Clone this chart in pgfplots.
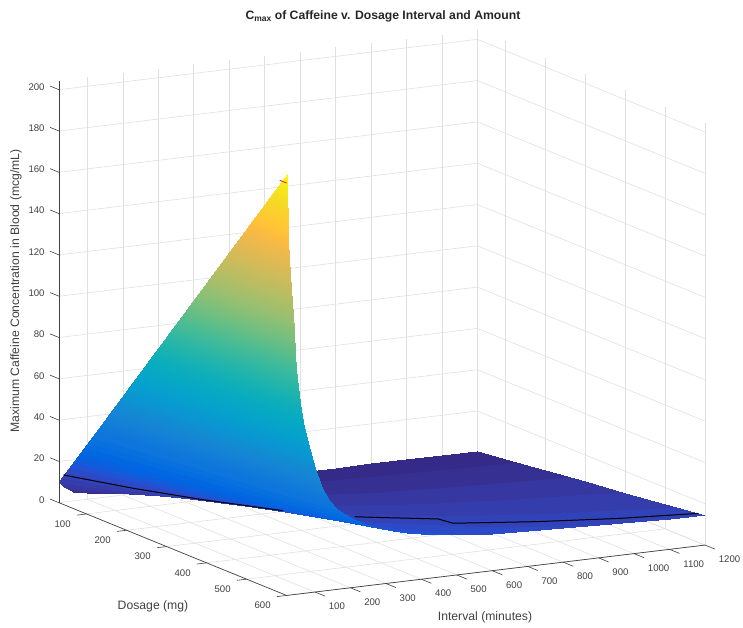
\documentclass[border=0pt]{standalone}
\usepackage{fontspec}
\setmainfont{Liberation Sans}
\usepackage{pgfplots}
\pgfplotsset{compat=1.18}
\definecolor{axgray}{rgb}{0.25,0.25,0.25}
\definecolor{gridgray}{rgb}{0.88,0.88,0.88}
\pgfplotsset{colormap={parula64}{
rgb255(0cm)=(53,42,135) rgb255(0.95cm)=(53,42,135)
rgb255(1cm)=(54,48,147) rgb255(1.95cm)=(54,48,147)
rgb255(2cm)=(54,55,160) rgb255(2.95cm)=(54,55,160)
rgb255(3cm)=(53,61,173) rgb255(3.95cm)=(53,61,173)
rgb255(4cm)=(50,67,186) rgb255(4.95cm)=(50,67,186)
rgb255(5cm)=(44,74,199) rgb255(5.95cm)=(44,74,199)
rgb255(6cm)=(32,83,212) rgb255(6.95cm)=(32,83,212)
rgb255(7cm)=(15,92,221) rgb255(7.95cm)=(15,92,221)
rgb255(8cm)=(3,99,225) rgb255(8.95cm)=(3,99,225)
rgb255(9cm)=(2,104,225) rgb255(9.95cm)=(2,104,225)
rgb255(10cm)=(4,109,224) rgb255(10.95cm)=(4,109,224)
rgb255(11cm)=(8,113,222) rgb255(11.95cm)=(8,113,222)
rgb255(12cm)=(13,117,220) rgb255(13cm)=(13,117,220)
rgb255(14cm)=(16,121,218) rgb255(15cm)=(18,125,216) rgb255(16cm)=(20,129,214)
rgb255(17cm)=(20,133,212) rgb255(18cm)=(19,137,211) rgb255(19cm)=(16,142,210)
rgb255(20cm)=(12,147,210) rgb255(21cm)=(9,152,209) rgb255(22cm)=(7,156,207)
rgb255(23cm)=(6,160,205) rgb255(24cm)=(6,164,202) rgb255(25cm)=(6,167,198)
rgb255(26cm)=(7,169,194) rgb255(27cm)=(10,172,190) rgb255(28cm)=(15,174,185)
rgb255(29cm)=(21,177,180) rgb255(30cm)=(29,179,175) rgb255(31cm)=(37,181,169)
rgb255(32cm)=(46,183,164) rgb255(33cm)=(56,185,158) rgb255(34cm)=(66,187,152)
rgb255(35cm)=(77,188,146) rgb255(36cm)=(89,189,140) rgb255(37cm)=(101,190,134)
rgb255(38cm)=(113,191,128) rgb255(39cm)=(124,191,123) rgb255(40cm)=(135,191,119)
rgb255(41cm)=(146,191,115) rgb255(42cm)=(156,191,111) rgb255(43cm)=(165,190,107)
rgb255(44cm)=(174,190,103) rgb255(45cm)=(183,189,100) rgb255(46cm)=(192,188,96)
rgb255(47cm)=(200,188,93) rgb255(48cm)=(209,187,89) rgb255(49cm)=(217,186,86)
rgb255(50cm)=(225,185,82) rgb255(51cm)=(233,185,78) rgb255(52cm)=(241,185,74)
rgb255(53cm)=(248,186,68) rgb255(54cm)=(253,190,61) rgb255(55cm)=(255,195,55)
rgb255(56cm)=(254,200,50) rgb255(57cm)=(252,206,46) rgb255(58cm)=(250,211,42)
rgb255(59cm)=(247,216,38) rgb255(60cm)=(245,222,33) rgb255(61cm)=(245,228,29)
rgb255(62cm)=(245,235,24) rgb255(63cm)=(246,243,19) rgb255(64cm)=(249,251,14)
}}
\begin{document}
\begin{tikzpicture}[x=1pt,y=1pt]
\useasboundingbox (0,0) rectangle (743,627);
\begin{axis}[
  anchor=origin, at={(59pt,124.3pt)},
  disabledatascaling,
  x={(0.4pt,-0.163pt)}, y={(0.35455pt,0.0427pt)}, z={(0pt,2.065pt)},
  xmin=31,xmax=600,ymin=20,ymax=1200,zmin=0,zmax=204.4,
  ytick={100,200,...,1200}, xtick={100,200,...,600}, ztick={0,20,...,200},
  grid=major, grid style={gridgray,line width=0.6pt},
  axis line style={draw=none},
  tick align=outside, major tick length=9pt,
  tick pos=left,
  tick style={draw=none},
  tick label style={font=\fontsize{9.6}{11}\selectfont,text=axgray},
  xticklabel style={anchor=east,xshift=-3.5pt,yshift=-9pt},
  yticklabel style={anchor=west,xshift=2pt,yshift=-11pt},
  zticklabel style={anchor=east,xshift=-2pt,yshift=4pt},
  /pgf/number format/assume math mode=true,
  /pgf/number format/1000 sep={},
  clip=false,
  point meta min=0, point meta max=204.4,
  colormap name=parula64,
]
\addplot3[surf,shader=interp,mesh/ordering=x varies,mesh/cols=7,mesh/rows=30,z buffer=auto] table[x=y,y=x,z=z] {
x y z
20 31 10.5
20 100 34
20 200 68
20 300 102
20 400 136
20 500 170
20 600 204.3
25 31 8.9
25 100 28.6
25 200 57.2
25 300 85.8
25 400 114.4
25 500 143
25 600 171.6
30 31 8.0
30 100 25.8
30 200 51.6
30 300 77.4
30 400 103.2
30 500 129
30 600 154.8
35 31 7.3
35 100 23.6
35 200 47.2
35 300 70.8
35 400 94.4
35 500 118
35 600 141.6
40 31 6.6
40 100 21.4
40 200 42.8
40 300 64.2
40 400 85.6
40 500 107
40 600 128.4
45 31 6.0
45 100 19.2
45 200 38.4
45 300 57.6
45 400 76.8
45 500 96
45 600 115.2
50 31 5.4
50 100 17.4
50 200 34.8
50 300 52.2
50 400 69.6
50 500 87
50 600 104.4
60 31 4.6
60 100 14.8
60 200 29.6
60 300 44.4
60 400 59.2
60 500 74
60 600 88.8
70 31 4.2
70 100 13.4
70 200 26.8
70 300 40.2
70 400 53.6
70 500 67
70 600 80.4
80 31 3.8
80 100 12.1
80 200 24.2
80 300 36.3
80 400 48.4
80 500 60.5
80 600 72.6
100 31 3.1
100 100 10
100 200 20
100 300 30
100 400 40
100 500 50
100 600 60
120 31 2.6
120 100 8.35
120 200 16.7
120 300 25.05
120 400 33.4
120 500 41.75
120 600 50.1
140 31 2.3
140 100 7.3
140 200 14.6
140 300 21.9
140 400 29.2
140 500 36.5
140 600 43.8
160 31 2.0
160 100 6.57
160 200 13.14
160 300 19.71
160 400 26.28
160 500 32.85
160 600 39.42
180 31 1.9
180 100 6.12
180 200 12.24
180 300 18.36
180 400 24.48
180 500 30.6
180 600 36.72
200 31 1.8
200 100 5.75
200 200 11.5
200 300 17.25
200 400 23
200 500 28.75
200 600 34.5
240 31 1.6
240 100 5.03
240 200 10.06
240 300 15.09
240 400 20.12
240 500 25.15
240 600 30.18
280 31 1.4
280 100 4.55
280 200 9.1
280 300 13.65
280 400 18.2
280 500 22.75
280 600 27.3
320 31 1.3
320 100 4.15
320 200 8.3
320 300 12.45
320 400 16.6
320 500 20.75
320 600 24.9
360 31 1.2
360 100 3.85
360 200 7.7
360 300 11.55
360 400 15.4
360 500 19.25
360 600 23.1
400 31 1.1
400 100 3.62
400 200 7.24
400 300 10.86
400 400 14.48
400 500 18.1
400 600 21.72
450 31 1.05
450 100 3.4
450 200 6.8
450 300 10.2
450 400 13.6
450 500 17
450 600 20.4
500 31 1.0
500 100 3.25
500 200 6.5
500 300 9.75
500 400 13
500 500 16.25
500 600 19.5
600 31 0.93
600 100 3
600 200 6
600 300 9
600 400 12
600 500 15
600 600 18
700 31 0.88
700 100 2.83
700 200 5.66
700 300 8.49
700 400 11.32
700 500 14.15
700 600 16.98
800 31 0.84
800 100 2.72
800 200 5.44
800 300 8.16
800 400 10.88
800 500 13.6
800 600 16.32
900 31 0.81
900 100 2.62
900 200 5.24
900 300 7.86
900 400 10.48
900 500 13.1
900 600 15.72
1000 31 0.79
1000 100 2.54
1000 200 5.08
1000 300 7.62
1000 400 10.16
1000 500 12.7
1000 600 15.24
1100 31 0.77
1100 100 2.47
1100 200 4.94
1100 300 7.41
1100 400 9.88
1100 500 12.35
1100 600 14.82
1200 31 0.74
1200 100 2.4
1200 200 4.8
1200 300 7.2
1200 400 9.6
1200 500 12
1200 600 14.4
};
\addplot3[black,line width=1pt] coordinates {(39.1,23,14) (142,104,14) (232,191,14) (333.5,311,14)};
\addplot3[black,line width=1pt] coordinates {(403,435,14) (421,485,14) (461,604,14) (490,614,14) (530,804,14) (562,1003,14) (583,1200,14)};
\addplot3[red,line width=0.8pt] coordinates {(583,20,199.7) (600,20,199.7)};
\draw[axgray,line width=0.7pt] (axis cs:31,20,0)--(axis cs:31,20,204.4);
\draw[axgray,line width=0.7pt] (axis cs:31,20,0)--(axis cs:600,20,0)--(axis cs:600,1200,0);
\pgfplotsinvokeforeach{100,200,300,400,500,600,700,800,900,1000,1100,1200}{\draw[axgray,line width=0.6pt] (axis cs:600,#1,0)--(axis cs:625,#1,0);}
\pgfplotsinvokeforeach{100,200,300,400,500,600}{\draw[axgray,line width=0.6pt] (axis cs:#1,20,0)--(axis cs:#1,-7,0);}
\pgfplotsinvokeforeach{0,20,40,60,80,100,120,140,160,180,200}{\draw[axgray,line width=0.6pt] (axis cs:31,20,#1)--(axis cs:8.5,20,#1);}
\end{axis}
\node[font=\fontsize{12.2}{14}\selectfont\bfseries,text=black!85] at (383,611) {C\raisebox{-2.5pt}{\fontsize{8.5}{10}\selectfont max} of Caffeine v. Dosage Interval and Amount};
\node[font=\fontsize{12.2}{14}\selectfont,text=axgray] at (153,21) {Dosage (mg)};
\node[font=\fontsize{12.2}{14}\selectfont,text=axgray] at (485,10) {Interval (minutes)};
\node[font=\fontsize{12.2}{14}\selectfont,text=axgray,rotate=90] at (16,336) {Maximum Caffeine Concentration in Blood (mcg/mL)};
\end{tikzpicture}
\end{document}
